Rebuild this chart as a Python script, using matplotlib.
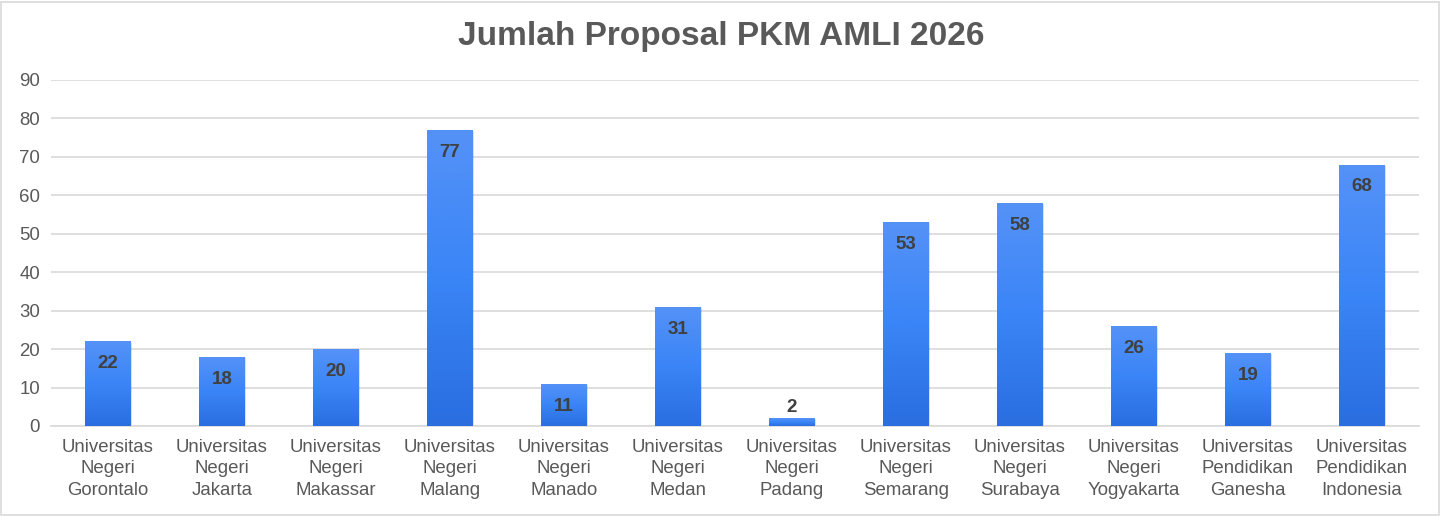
import numpy as np
import matplotlib
matplotlib.use("Agg")
import matplotlib.pyplot as plt
from matplotlib.colors import LinearSegmentedColormap
from matplotlib.patches import Rectangle

plt.rcParams['font.family'] = ['Liberation Sans', 'DejaVu Sans']

# data
kampus = ["Universitas\nNegeri\nGorontalo", "Universitas\nNegeri\nJakarta",
          "Universitas\nNegeri\nMakassar", "Universitas\nNegeri\nMalang",
          "Universitas\nNegeri\nManado", "Universitas\nNegeri\nMedan",
          "Universitas\nNegeri\nPadang", "Universitas\nNegeri\nSemarang",
          "Universitas\nNegeri\nSurabaya", "Universitas\nNegeri\nYogyakarta",
          "Universitas\nPendidikan\nGanesha", "Universitas\nPendidikan\nIndonesia"]
jumlah = [22, 18, 20, 77, 11, 31, 2, 53, 58, 26, 19, 68]

fig = plt.figure(figsize=(14.42, 5.16), dpi=100)
ax = fig.add_axes([51/1442, 1 - 426/516, 1368/1442, 346/516])

x = np.arange(len(jumlah))
bars = ax.bar(x, jumlah, width=0.4, color='none', edgecolor='none', zorder=3)

# vertical gradient, light on top, darker at the bottom
cmap = LinearSegmentedColormap.from_list("biru", ["#2a6ee0", "#3a85f7", "#5592f7"])
grad = np.linspace(0, 1, 256).reshape(-1, 1)
for b in bars:
    x0, y0 = b.get_x(), b.get_y()
    w, h = b.get_width(), b.get_height()
    # soft shadow
    ax.add_patch(Rectangle((x0 + 0.012, y0), w, h - 0.3, facecolor='#000000',
                           alpha=0.12, edgecolor='none', zorder=2))
    im = ax.imshow(grad, cmap=cmap, origin='lower', aspect='auto',
                   extent=(x0, x0 + w, y0, y0 + h), zorder=3)
    im.set_clip_path(b)

for xi, v in zip(x, jumlah):
    if v < 6:
        ax.text(xi, v + 0.7, str(v), ha='center', va='bottom', fontsize=13.5,
                fontweight='bold', color='#404040', zorder=4)
    else:
        ax.text(xi, v - 5.8, str(v), ha='center', va='center', fontsize=13.5,
                fontweight='bold', color='#404040', zorder=4)

ax.set_xlim(-0.5, len(jumlah) - 0.5)
ax.set_ylim(0, 90)
ax.set_yticks(range(0, 91, 10))
ax.set_xticks(x)
ax.set_xticklabels(kampus, fontsize=13.4, color='#595959', linespacing=1.36)
ax.tick_params(axis='y', labelsize=13.4, labelcolor='#595959', length=0, pad=8)
ax.tick_params(axis='x', length=0, pad=9)
ax.grid(axis='y', color='#d9d9d9', linewidth=1.2, zorder=0)
for s in ['top', 'right', 'left']:
    ax.spines[s].set_visible(False)
ax.spines['bottom'].set_color('#d9d9d9')
ax.spines['bottom'].set_linewidth(1.2)

fig.suptitle("Jumlah Proposal PKM AMLI 2026", y=1 - 37/516, va='center',
             fontsize=24, fontweight='bold', color='#595959')

fig.patches.append(Rectangle((0.001, 0.002), 0.997, 0.995, transform=fig.transFigure,
                             fill=False, edgecolor='#d9d9d9', linewidth=1.2))

fig.savefig("out.png", dpi=100)
